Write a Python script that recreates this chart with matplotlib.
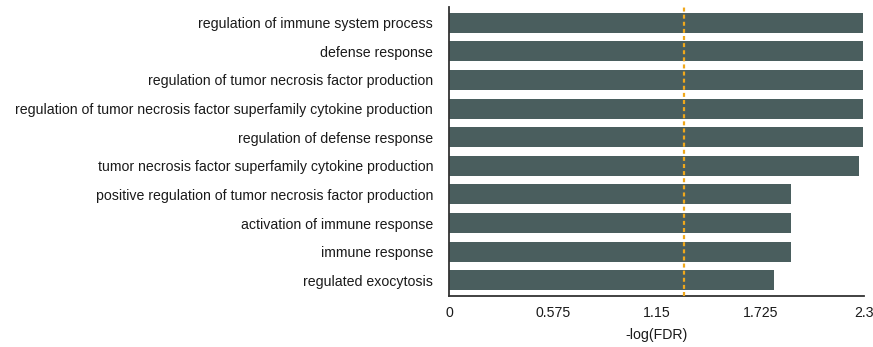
import numpy as np
import matplotlib.pyplot as plt

plt.rcParams['font.family'] = ['Liberation Sans', 'DejaVu Sans']

terms = [
    'regulation of immune system process',
    'defense response',
    'regulation of tumor necrosis factor production',
    'regulation of tumor necrosis factor superfamily cytokine production',
    'regulation of defense response',
    'tumor necrosis factor superfamily cytokine production',
    'positive regulation of tumor necrosis factor production',
    'activation of immune response',
    'immune response',
    'regulated exocytosis',
]
neg_log_fdr = [2.295, 2.295, 2.295, 2.295, 2.295, 2.27, 1.895, 1.895, 1.895, 1.80]
xticks = [0, 0.575, 1.15, 1.725, 2.3]
xtick_labels = ['0', '0.575', '1.15', '1.725', '2.3']
cutoff = 1.30  # -log10(0.05)

fig = plt.figure(figsize=(8.73, 3.47), dpi=100)
ax = fig.add_axes([0.5143, 0.147, 0.4754, 0.833])

y = np.arange(len(terms))
ax.barh(y, neg_log_fdr, height=0.7, color='#4a5e5e', zorder=2)
ax.axvline(cutoff, color='#f0a81c', linestyle=(0, (1.8, 1.4)), linewidth=1.6, zorder=3)

fs = 10.2
ax.set_yticks(y)
ax.set_yticklabels(terms, fontsize=fs, color='#1a1a1a')
ax.set_xticks(xticks)
ax.set_xticklabels(xtick_labels, fontsize=fs, color='#1a1a1a')
ax.set_xlim(0, 2.3)
ax.set_ylim(len(terms) - 0.45, -0.55)
ax.set_xlabel('-log(FDR)', fontsize=fs, color='#1a1a1a', labelpad=6)

ax.tick_params(axis='y', length=0, pad=11.5)
ax.tick_params(axis='x', length=0, pad=7)
for side in ['top', 'right']:
    ax.spines[side].set_visible(False)
for side in ['left', 'bottom']:
    ax.spines[side].set_color('#333333')
    ax.spines[side].set_linewidth(1.3)

fig.savefig('out.png', dpi=100)
